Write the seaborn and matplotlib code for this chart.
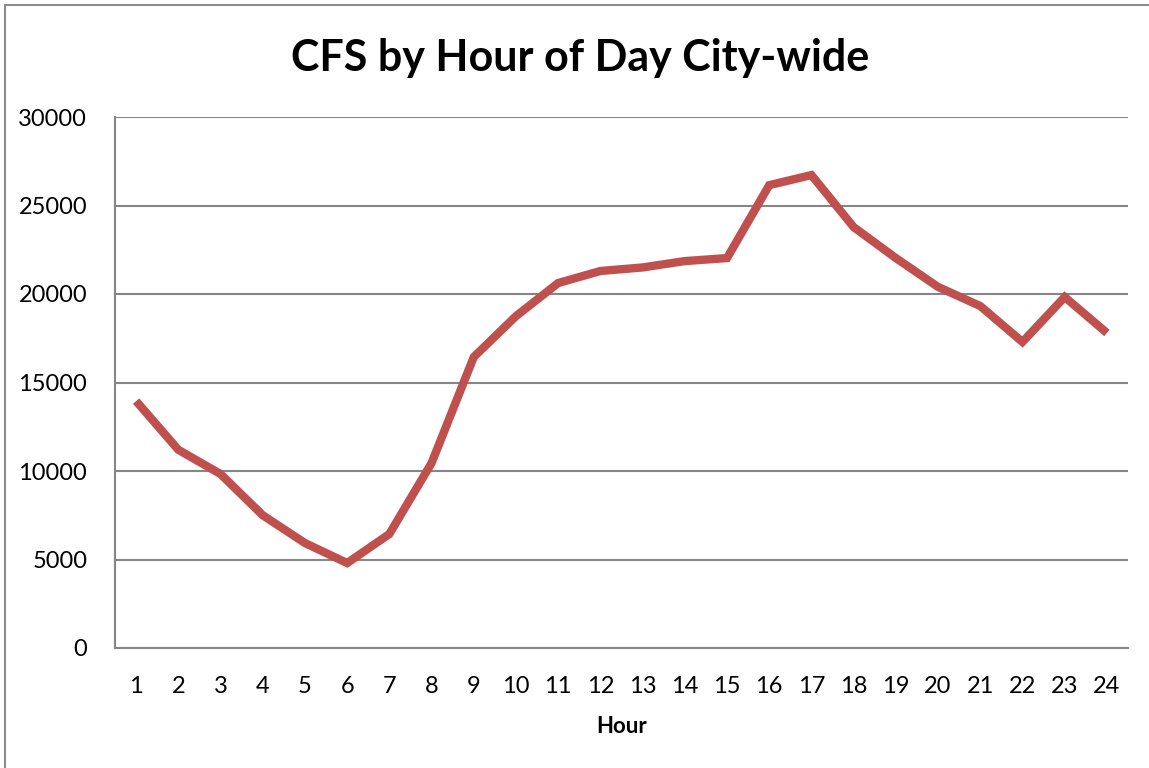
import numpy as np
import pandas as pd
import matplotlib
matplotlib.use('Agg')
import matplotlib.pyplot as plt
from matplotlib.patches import Rectangle
import seaborn as sns

sns.set_style('white')
plt.rcParams['font.family'] = ['Lato', 'DejaVu Sans']
plt.rcParams['text.color'] = 'black'
plt.rcParams['axes.labelcolor'] = 'black'
plt.rcParams['xtick.labelcolor'] = 'black'
plt.rcParams['ytick.labelcolor'] = 'black'

# data
hours = list(range(1, 25))
calls = [13950, 11200, 9830, 7500, 5930, 4800, 6440, 10450, 16440, 18750, 20620, 21300,
         21500, 21860, 22030, 26150, 26720, 23780, 22030, 20400, 19320, 17290, 19830, 17800]
y_ticks = [0, 5000, 10000, 15000, 20000, 25000, 30000]

df = pd.DataFrame({'Hour': hours, 'CFS': calls})

fig = plt.figure(figsize=(11.49, 7.68), dpi=100)
ax = fig.add_axes([115 / 1149, 1 - 648 / 768, (1128 - 115) / 1149, (648 - 117) / 768])

# outer chart frame (right and bottom edges fall outside the picture)
fig.patches.append(Rectangle((5 / 1149, -0.05), 1.1, 1 - 5 / 768 + 0.05,
                             transform=fig.transFigure, fill=False,
                             edgecolor='#8c8c8c', linewidth=1.5))

sns.lineplot(data=df, x='Hour', y='CFS', color='#C0504D', linewidth=6,
             solid_joinstyle='miter', solid_capstyle='butt', ax=ax)

ax.set_xlim(0.5, 24.5)
ax.set_ylim(0, 30000)
ax.set_yticks(y_ticks)
ax.set_yticklabels([str(v) for v in y_ticks], fontsize=17)
ax.set_xticks(hours)
ax.set_xticklabels([str(h) for h in hours], fontsize=17)
ax.set_xticks(np.arange(0.5, 25, 1), minor=True)
ax.tick_params(axis='x', which='major', length=0, pad=20)
ax.tick_params(axis='x', which='minor', length=6, width=1.5, color='#868686', direction='out')
ax.tick_params(axis='y', length=6, width=1.5, color='#868686', direction='out', pad=14)
ax.yaxis.grid(True, color='#868686', linewidth=1.5)
ax.set_axisbelow(True)

for side in ['top', 'right']:
    ax.spines[side].set_visible(False)
for side in ['left', 'bottom']:
    ax.spines[side].set_color('#868686')
    ax.spines[side].set_linewidth(1.5)

ax.set_xlabel('Hour', fontsize=16, fontweight='bold', labelpad=14, color='black')
ax.set_ylabel('')
fig.suptitle('CFS by Hour of Day City-wide', fontsize=31, fontweight='bold',
             x=0.505, y=0.95)

plt.savefig('out.png', dpi=100)
